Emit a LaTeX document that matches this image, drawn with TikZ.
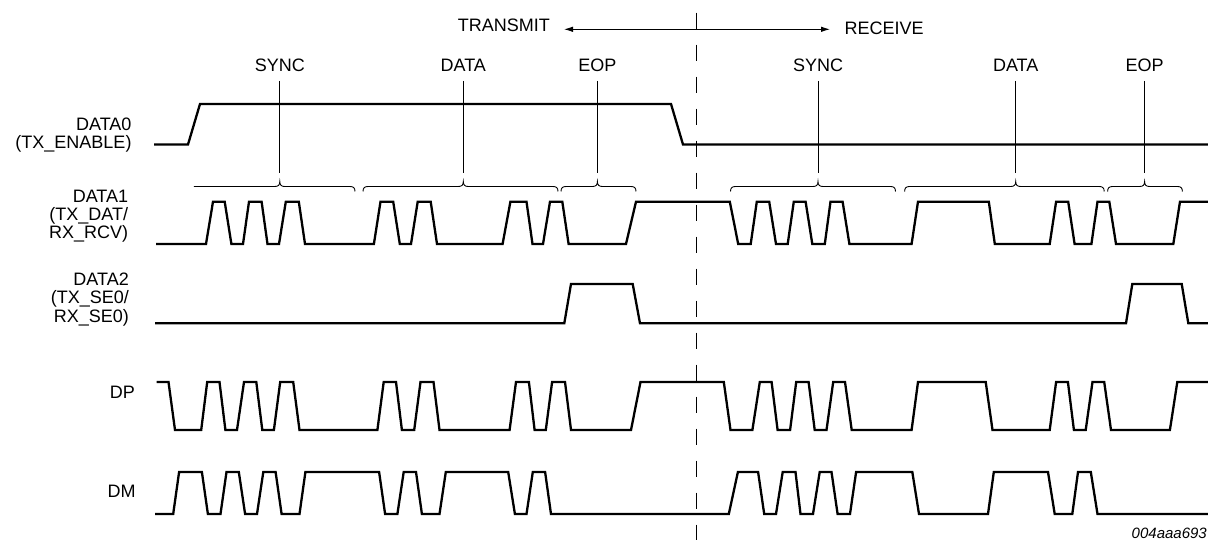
\documentclass[tikz,border=0pt]{standalone}
\usepackage{fontspec}
\setmainfont{Liberation Sans}
\usetikzlibrary{arrows.meta}
\newcommand\mybrace[4]{%
  \draw[thinline] (#1,#4+5) .. controls (#1,#4+1.5) and (#1+1.5,#4) .. (#1+5,#4)
    -- (#2-5,#4) .. controls (#2-1.5,#4) and (#2,#4-1.5) .. (#2,#4-5)
    .. controls (#2,#4-1.5) and (#2+1.5,#4) .. (#2+5,#4)
    -- (#3-5,#4) .. controls (#3-1.5,#4) and (#3,#4+1.5) .. (#3,#4+5);}
\newcommand\mybraceS[4]{%
  \draw[thinline] (#1,#4)
    -- (#2-5,#4) .. controls (#2-1.5,#4) and (#2,#4-1.5) .. (#2,#4-5)
    .. controls (#2,#4-1.5) and (#2+1.5,#4) .. (#2+5,#4)
    -- (#3-5,#4) .. controls (#3-1.5,#4) and (#3,#4+1.5) .. (#3,#4+5);}
\begin{document}
\begin{tikzpicture}[x=1pt,y=-1pt,
  wave/.style={line width=2.3pt, line join=miter},
  thinline/.style={line width=0.9pt},
  lbl/.style={font=\fontsize{18}{18}\selectfont, inner sep=0pt},
  siglbl/.style={lbl, align=right, anchor=base east},
  seglbl/.style={lbl, anchor=base}]
\useasboundingbox (0,0) rectangle (1208,540);

% top direction labels
\node[lbl, anchor=base west] (tx) at (457.7,32) {TRANSMIT};
\node[lbl, anchor=base west] (rx) at (844.3,35) {RECEIVE};
\coordinate (al) at (564,29.3);
\coordinate (ar) at (830,29.3);
\draw[thinline, {Latex[length=9pt,width=5.5pt]}-{Latex[length=9pt,width=5.5pt]}] (al) -- (ar);

% divider
\coordinate (dtop) at (696.5,12.7);
\coordinate (dbot) at (696.5,540);
\draw[thinline, dash pattern=on 16pt off 16pt] (dtop) -- (dbot);

% segment labels and markers
\foreach \x/\n/\t in {279.8/s1/SYNC, 463.3/d1/DATA, 597.4/e1/EOP, 818/s2/SYNC, 1015.7/d2/DATA, 1144.6/e2/EOP}{
  \node[seglbl] (\n) at (\x,71.3) {\t};
  \coordinate (\n t) at (\x,81);
  \coordinate (\n b) at (\x,173.5);
  \draw[thinline] (\n t) -- (\n b);
}

% braces
\mybraceS{193.9}{279.8}{355}{186.5}
\mybrace{363}{463.3}{558}{186.5}
\mybrace{561}{597.4}{636}{186.5}
\mybrace{730.5}{818}{895.5}{186.5}
\mybrace{904.6}{1015.7}{1104.2}{186.5}
\mybrace{1107.6}{1144.6}{1182.4}{186.5}

% signal names (anchor = baseline of last line)
\node[siglbl] (n0) at (131.7,148.5) {DATA0\\(TX\_ENABLE)};
\node[siglbl] (n1) at (128.3,238.5) {DATA1\\(TX\_DAT/\\RX\_RCV)};
\node[siglbl] (n2) at (129,322) {DATA2\\(TX\_SE0/\\RX\_SE0)};
\node[siglbl] (n3) at (135,398) {DP};
\node[siglbl] (n4) at (135.7,497.7) {DM};

% DATA0
\draw[wave] (154,144.5) -- (188,144.5) -- (200,104) -- (671,104) -- (683,144.5) -- (1208,144.5);

% DATA1
\draw[wave] (156,244) -- (206,244) -- (213,201.7) -- (224.7,201.7) -- (231.4,244) -- (243,244) -- (249,201.7) -- (261.6,201.7) -- (267.5,244) -- (279,244) -- (285.8,201.7) -- (298.8,201.7) -- (305,244) -- (373.9,244) -- (380.5,201.7) -- (393.2,201.7) -- (399.8,244) -- (411,244) -- (417.7,201.7) -- (430.7,201.7) -- (437,244) -- (502.6,244) -- (510.4,201.7) -- (526.5,201.7) -- (532.5,244) -- (543,244) -- (550,201.7) -- (562.3,201.7) -- (568.6,244) -- (626,244) -- (636,201.7) -- (729.8,201.7) -- (738.2,244) -- (750.7,244) -- (756.8,201.7) -- (769.2,201.7) -- (776,244) -- (787.7,244) -- (793.8,201.7) -- (805.6,201.7) -- (812.3,244) -- (824.8,244) -- (830.5,201.7) -- (842.6,201.7) -- (849.4,244) -- (911.6,244) -- (918,201.7) -- (988.8,201.7) -- (994.8,244) -- (1049.7,244) -- (1056.1,201.7) -- (1068.2,201.7) -- (1074.6,244) -- (1091.4,244) -- (1097.5,201.7) -- (1109.3,201.7) -- (1116,244) -- (1173.3,244) -- (1180,201.7) -- (1208,201.7);

% DATA2
\draw[wave] (155,323.3) -- (564.3,323.3) -- (571,284) -- (632.7,284) -- (640,323.3) -- (1126,323.3) -- (1132.3,284) -- (1181.7,284) -- (1188.3,323.3) -- (1208,323.3);

% DP
\draw[wave] (156.5,382) -- (168.5,382) -- (175,430) -- (201.2,430) -- (207.2,382) -- (219.5,382) -- (225.4,430) -- (237,430) -- (244,382) -- (256.3,382) -- (262.3,430) -- (273.9,430) -- (280.2,382) -- (293.2,382) -- (299.5,430) -- (377.4,430) -- (383.7,382) -- (396,382) -- (401.9,430) -- (414.2,430) -- (420.5,382) -- (433.5,382) -- (439.5,430) -- (509.6,430) -- (516,382) -- (528.9,382) -- (534.6,430) -- (545.8,430) -- (552.1,382) -- (565,382) -- (571,430) -- (631,430) -- (640.5,382) -- (723.8,382) -- (730.5,430) -- (752.4,430) -- (759.8,382) -- (771.6,382) -- (777.6,430) -- (790.1,430) -- (796.2,382) -- (808.6,382) -- (814.7,430) -- (826.5,430) -- (833.2,382) -- (845,382) -- (851.7,430) -- (911.6,430) -- (918,382) -- (985.7,382) -- (992.5,430) -- (1049.7,430) -- (1056.1,382) -- (1067.9,382) -- (1073.9,430) -- (1085.7,430) -- (1092.5,382) -- (1104.2,382) -- (1111,430) -- (1169.9,430) -- (1177.3,382) -- (1208,382);

% DM
\draw[wave] (155,514) -- (173.2,514) -- (179.1,472) -- (201.9,472) -- (207.9,514) -- (220.5,514) -- (226.5,472) -- (238.8,472) -- (245.1,514) -- (257,514) -- (263.3,472) -- (275.6,472) -- (281.6,514) -- (299.5,514) -- (305.4,472) -- (379.1,472) -- (385.1,514) -- (397.4,514) -- (403.7,472) -- (416,472) -- (421.9,514) -- (439.5,514) -- (445.8,472) -- (508.2,472) -- (514.9,514) -- (526.5,514) -- (532.8,472) -- (545.1,472) -- (551,514) -- (728.8,514) -- (737.9,472) -- (758.1,472) -- (764.2,514) -- (776,514) -- (782.7,472) -- (795.5,472) -- (800.5,514) -- (813,514) -- (819.7,472) -- (831.5,472) -- (837.6,514) -- (850,514) -- (856.1,472) -- (912.3,472) -- (919,514) -- (988,514) -- (993.8,472) -- (1048,472) -- (1054.7,514) -- (1072.3,514) -- (1078,472) -- (1090.8,472) -- (1097.5,514) -- (1208,514);

% figure code
\node[font=\fontsize{15}{18}\selectfont\itshape, anchor=base east, inner sep=0pt] (code) at (1207,538.5) {004aaa693};
\end{tikzpicture}
\end{document}
